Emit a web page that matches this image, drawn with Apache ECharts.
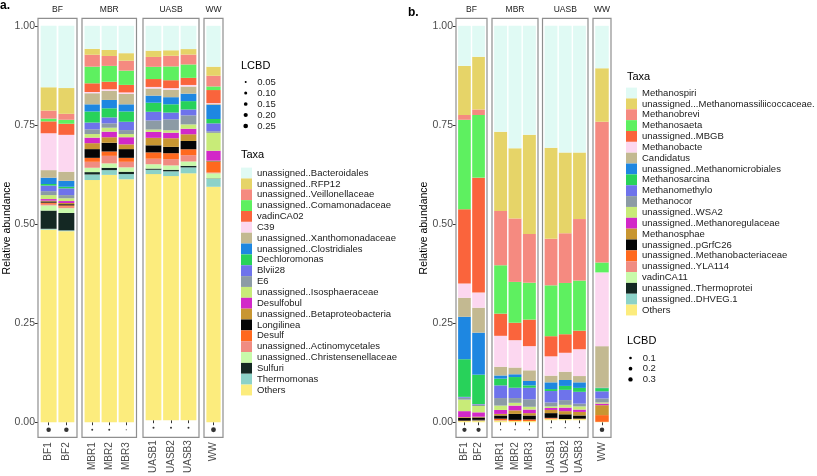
<!DOCTYPE html>
<html><head><meta charset="utf-8">
<script src="https://cdn.jsdelivr.net/npm/echarts@6/dist/echarts.min.js"></script>
<style>html,body{margin:0;padding:0;background:#fff}#c{width:817px;height:476px}</style>
</head><body><div id="c"></div>
<script>
// ---------- DATA ----------
const facetNames = ['BF','MBR','UASB','WW'];
const facetSamples = [['BF1','BF2'],['MBR1','MBR2','MBR3'],['UASB1','UASB2','UASB3'],['WW']];
const yTicks = [0, 0.25, 0.5, 0.75, 1];

const taxaA = ['unassigned..Bacteroidales','unassigned..RFP12','unassigned..Veillonellaceae','unassigned..Comamonadaceae','vadinCA02','C39','unassigned..Xanthomonadaceae','unassigned..Clostridiales','Dechloromonas','Blvii28','E6','unassigned..Isosphaeraceae','Desulfobul','unassigned..Betaproteobacteria','Longilinea','Desulf','unassigned..Actinomycetales','unassigned..Christensenellaceae','Sulfuri','Thermomonas','Others'];
const taxaB = ['Methanospiri','unassigned...Methanomassiliicoccaceae.','Methanobrevi','Methanosaeta','unassigned..MBGB','Methanobacte','Candidatus','unassigned..Methanomicrobiales','Methanosarcina','Methanomethylo','Methanocor','unassigned..WSA2','unassigned..Methanoregulaceae','Methanosphae','unassigned..pGrfC26','unassigned..Methanobacteriaceae','unassigned..YLA114','vadinCA11','unassigned..Thermoprotei','unassigned..DHVEG.1','Others'];
const palette = ['#E0FAF4','#E6D468','#F58A80','#5EF060','#FA643C','#FCD7F0','#C3B991','#1E87E1','#28D25A','#6E73EB','#8C9BA5','#C8EB78','#D228C8','#C89632','#050505','#FF691E','#F08C82','#C8FAAA','#142823','#8CD2C8','#FCEC7D'];

// panel a (values in taxaA order)
const a_BF1   = [0.155,0.059,0.020,0.007,0.030,0.093,0.019,0.016,0.004,0.014,0.010,0.010,0.004,0.002,0.003,0.003,0.004,0.013,0.046,0.002,0.486];
const a_BF2   = [0.157,0.065,0.015,0.010,0.028,0.093,0.023,0.015,0.004,0.017,0.008,0.007,0.005,0.003,0.003,0.003,0.004,0.012,0.044,0.002,0.482];
const a_MBR1  = [0.058,0.015,0.030,0.042,0.022,0.003,0.028,0.018,0.028,0.017,0.012,0.009,0.014,0.015,0.022,0.010,0.015,0.011,0.006,0.014,0.611];
const a_MBR2  = [0.061,0.015,0.025,0.040,0.019,0.004,0.023,0.021,0.023,0.015,0.011,0.010,0.014,0.014,0.022,0.011,0.019,0.011,0.006,0.012,0.624];
const a_MBR3  = [0.069,0.019,0.025,0.036,0.019,0.004,0.026,0.018,0.026,0.021,0.010,0.008,0.018,0.012,0.022,0.010,0.014,0.011,0.006,0.013,0.613];
const a_UASB1 = [0.063,0.016,0.025,0.031,0.020,0.004,0.018,0.018,0.023,0.022,0.023,0.006,0.015,0.019,0.018,0.016,0.014,0.011,0.003,0.011,0.624];
const a_UASB2 = [0.062,0.014,0.027,0.035,0.020,0.004,0.019,0.018,0.021,0.017,0.028,0.006,0.014,0.022,0.016,0.015,0.016,0.011,0.004,0.012,0.619];
const a_UASB3 = [0.059,0.014,0.025,0.034,0.018,0.004,0.018,0.019,0.021,0.015,0.023,0.011,0.014,0.017,0.021,0.015,0.016,0.011,0.004,0.015,0.626];
const a_WW    = [0.103,0.023,0.027,0.009,0.033,0.002,0.002,0.036,0.011,0.020,0.004,0.045,0.025,0.002,0.001,0.027,0.002,0.013,0.001,0.020,0.594];

// panel b (values in taxaB order)
const b_BF1   = [0.101,0.124,0.012,0.226,0.187,0.036,0.048,0.107,0.095,0.002,0.005,0.029,0.015,0.002,0.007,0.001,0,0,0,0,0.003];
const b_BF2   = [0.078,0.133,0.014,0.158,0.290,0.038,0.063,0.106,0.074,0.001,0.004,0.016,0.011,0.002,0.006,0.001,0,0,0.001,0.001,0.003];
const b_MBR1  = [0.267,0.200,0.137,0.122,0.056,0.078,0.022,0.008,0.017,0.032,0.019,0.011,0.010,0.004,0.008,0.004,0.001,0.001,0,0,0.003];
const b_MBR2  = [0.309,0.177,0.160,0.103,0.044,0.069,0.017,0.007,0.027,0.026,0.012,0.007,0.012,0.009,0.015,0.003,0,0,0,0,0.003];
const b_MBR3  = [0.275,0.250,0.123,0.093,0.067,0.061,0.027,0.011,0.006,0.029,0.019,0.007,0.009,0.006,0.010,0.004,0,0,0,0,0.003];
const b_UASB1 = [0.309,0.231,0.118,0.129,0.051,0.049,0.017,0.017,0.005,0.029,0.010,0.004,0.005,0.008,0.012,0.002,0.001,0,0,0,0.003];
const b_UASB2 = [0.321,0.205,0.126,0.130,0.047,0.048,0.021,0.015,0.010,0.026,0.012,0.007,0.009,0.008,0.012,0,0,0,0,0,0.003];
const b_UASB3 = [0.321,0.169,0.156,0.127,0.047,0.068,0.016,0.014,0.010,0.030,0.007,0.008,0.006,0.009,0.008,0.001,0,0,0,0,0.003];
const b_WW    = [0.107,0.135,0.355,0.025,0,0.186,0.105,0.001,0.008,0.018,0.010,0.003,0.004,0.025,0,0.017,0,0,0,0,0.001];

// LCBD per sample (BF1,BF2,MBR1,MBR2,MBR3,UASB1,UASB2,UASB3,WW)
const lcbdA = [0.23,0.23,0.05,0.05,0.04,0.05,0.05,0.05,0.27];
const lcbdB = [0.28,0.28,0.05,0.05,0.05,0.05,0.05,0.05,0.32];
const lcbdBreaksA = [0.05,0.10,0.15,0.20,0.25];
const lcbdBreaksB = [0.1,0.2,0.3];

// ---------- LAYOUT ----------
const FONT = 'Liberation Sans, Arial, sans-serif';
const TOP = 18.3, HEIGHT = 419, YMIN = -0.038, YMAX = 1.019, DOTY = -0.019;
const framesA = [[38,77],[82,136.5],[143,199],[204,223]];
const framesB = [[456,487],[492,538],[542.5,588],[593,611]];
function sizeA(v){ return 1.2 + 3.6*Math.sqrt(Math.max(0,(v-0.04)/(0.27-0.04))); }
function sizeB(v){ return 1.3 + 3.2*Math.sqrt(Math.max(0,(v-0.05)/(0.32-0.05))); }

const allSamples = facetSamples.flat();
const valsA = {BF1:a_BF1,BF2:a_BF2,MBR1:a_MBR1,MBR2:a_MBR2,MBR3:a_MBR3,UASB1:a_UASB1,UASB2:a_UASB2,UASB3:a_UASB3,WW:a_WW};
const valsB = {BF1:b_BF1,BF2:b_BF2,MBR1:b_MBR1,MBR2:b_MBR2,MBR3:b_MBR3,UASB1:b_UASB1,UASB2:b_UASB2,UASB3:b_UASB3,WW:b_WW};

const grid=[], xAxis=[], yAxis=[], series=[], graphic=[];

function buildPanel(frames, taxa, vals, lcbd, sizeFn){
  frames.forEach((fr, f) => {
    const samples = facetSamples[f];
    const n = samples.length;
    const u = (fr[1]-fr[0])/(n+0.2);
    const g = grid.length;
    grid.push({left: fr[0]+0.1*u, width: n*u, top: TOP, height: HEIGHT});
    xAxis.push({type:'category', gridIndex:g, data:samples,
      axisLine:{show:false},
      axisTick:{show:true, alignWithLabel:true, length:3, lineStyle:{color:'#333', width:1}},
      axisLabel:{rotate:90, fontSize:10, color:'#4d4d4d', margin:5, fontFamily:FONT},
      splitLine:{show:false}});
    yAxis.push({type:'value', gridIndex:g, min:YMIN, max:YMAX, show: f===0, offset: 0.1*u,
      axisLine:{show:false},
      axisTick:{show:true, customValues:yTicks, length:3, lineStyle:{color:'#333', width:1}},
      axisLabel:{customValues:yTicks, formatter:(v)=>v.toFixed(2), fontSize:10.5, color:'#4d4d4d', margin:3, fontFamily:FONT},
      splitLine:{show:false}});
    for (let t = taxa.length-1; t >= 0; t--) {
      series.push({type:'bar', name:taxa[t], xAxisIndex:g, yAxisIndex:g, stack:'s'+g,
        barWidth: 0.9*u, itemStyle:{color:palette[t]}, silent:true,
        data: samples.map(s => vals[s][t])});
    }
    series.push({type:'scatter', name:'LCBD', xAxisIndex:g, yAxisIndex:g, silent:true, z:5,
      itemStyle:{color:'#000'},
      data: samples.map(s => ({value:[s, DOTY], symbolSize: sizeFn(lcbd[allSamples.indexOf(s)])}))});
    graphic.push({type:'rect', z:100, silent:true,
      shape:{x:fr[0], y:TOP, width:fr[1]-fr[0], height:HEIGHT},
      style:{fill:'none', stroke:'#8f8f8f', lineWidth:1.2}});
    graphic.push({type:'text', z:100, silent:true, x:(fr[0]+fr[1])/2, y:10,
      style:{text:facetNames[f], fill:'#1a1a1a', font:'8.5px '+FONT, textAlign:'center', textVerticalAlign:'middle'}});
  });
}
buildPanel(framesA, taxaA, valsA, lcbdA, sizeA);
buildPanel(framesB, taxaB, valsB, lcbdB, sizeB);

function txt(x,y,s,font,extra){ return Object.assign({type:'text', silent:true, z:100, x:x, y:y,
  style:{text:s, fill:'#000', font:font, textAlign:'left', textVerticalAlign:'middle'}}, extra||{}); }

// panel labels and axis titles
graphic.push(txt(0,6,'a.','bold 12px '+FONT));
graphic.push(txt(408,13,'b.','bold 12px '+FONT));
graphic.push({type:'text', silent:true, z:100, x:7, y:228, rotation:Math.PI/2,
  style:{text:'Relative abundance', fill:'#000', font:'10.5px '+FONT, textAlign:'center', textVerticalAlign:'middle'}});
graphic.push({type:'text', silent:true, z:100, x:424, y:228, rotation:Math.PI/2,
  style:{text:'Relative abundance', fill:'#000', font:'10.5px '+FONT, textAlign:'center', textVerticalAlign:'middle'}});

// legend titles
graphic.push(txt(241,66,'LCBD','11px '+FONT));
graphic.push(txt(241,155,'Taxa','11px '+FONT));
graphic.push(txt(627,77,'Taxa','11px '+FONT));
graphic.push(txt(627,341,'LCBD','11px '+FONT));
lcbdBreaksA.forEach((v,i)=>{
  const y = 82 + 11*i;
  graphic.push({type:'circle', silent:true, z:100, shape:{cx:245.7, cy:y, r:sizeA(v)/2}, style:{fill:'#000'}});
  graphic.push(txt(257.3, y, v.toFixed(2), '9.5px '+FONT, {style:{text:v.toFixed(2), fill:'#1a1a1a', font:'9.5px '+FONT, textAlign:'left', textVerticalAlign:'middle'}}));
});
lcbdBreaksB.forEach((v,i)=>{
  const y = 358 + 10.7*i;
  graphic.push({type:'circle', silent:true, z:100, shape:{cx:630.5, cy:y, r:sizeB(v)/2}, style:{fill:'#000'}});
  graphic.push(txt(642.7, y, v.toFixed(1), '9.5px '+FONT, {style:{text:v.toFixed(1), fill:'#1a1a1a', font:'9.5px '+FONT, textAlign:'left', textVerticalAlign:'middle'}}));
});

const legendBase = {orient:'vertical', icon:'rect', itemWidth:11, itemHeight:10.85, itemGap:0, padding:0,
  selectedMode:false, textStyle:{fontSize:9.5, color:'#1a1a1a', fontFamily:FONT, lineHeight:10.85}};

const chart = echarts.init(document.getElementById('c'), null, {renderer:'canvas'});
chart.setOption({
  animation:false,
  backgroundColor:'#fff',
  grid, xAxis, yAxis, series, graphic,
  legend:[
    Object.assign({}, legendBase, {data:taxaA, left:241, top:167.6}),
    Object.assign({}, legendBase, {data:taxaB, left:626, top:87.6})
  ]
});
</script></body></html>
